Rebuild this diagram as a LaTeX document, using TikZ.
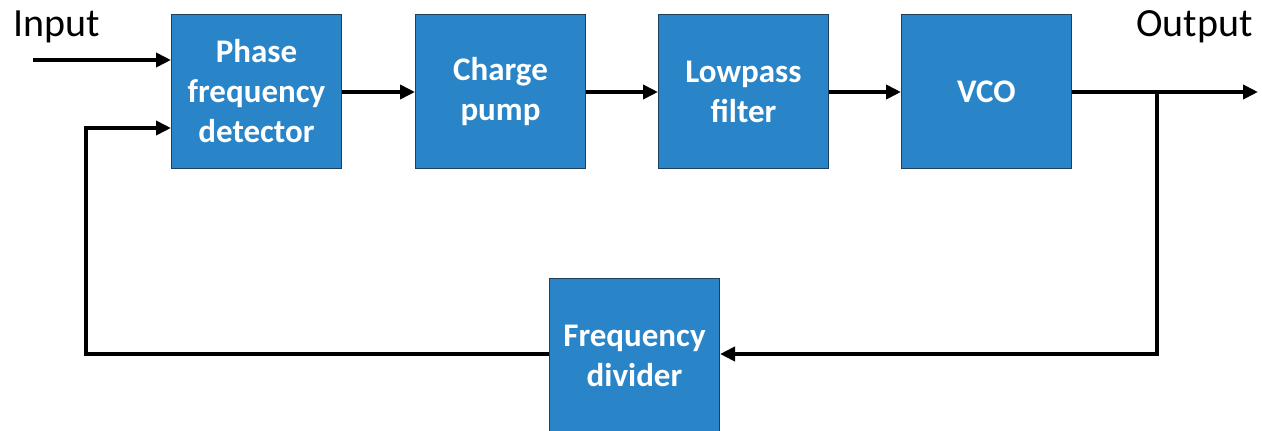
\documentclass[tikz,border=0pt]{standalone}
\usepackage{fontspec}
\setmainfont{Carlito}
\usetikzlibrary{arrows.meta}
\definecolor{boxblue}{HTML}{2A85C8}
\definecolor{boxedge}{HTML}{1F3F5F}
\begin{document}
\begin{tikzpicture}[x=1pt,y=-1pt,
  blk/.style={draw=boxedge,line width=1pt,fill=boxblue,minimum width=170pt,minimum height=154pt,
    inner sep=0pt,text=white,font=\fontsize{33}{40}\selectfont\bfseries,align=center,anchor=north west},
  wire/.style={line width=4.5pt,-{Triangle[length=15pt,width=14pt]}},
  lbl/.style={font=\fontsize{40}{44}\selectfont,inner sep=0pt}]
\useasboundingbox (0,0) rectangle (1262,431);
\node[blk] (pfd) at (171,14) {Phase\\frequency\\detector};
\node[blk] (cp) at (415,14) {Charge\\pump};
\node[blk] (lpf) at (658,14) {Lowpass\\filter};
\node[blk] (vco) at (901,14) {VCO};
\node[blk] (fd) at (549,278) {Frequency\\divider};
\node[lbl,anchor=base west] (inlbl) at (13,36) {Input};
\node[lbl,anchor=base east] (outlbl) at (1253,36) {Output};
\coordinate (inS) at (33,60);
\coordinate (fbA) at (86,354);
\coordinate (fbB) at (86,128);
\coordinate (tap) at (1157,92);
\coordinate (tapB) at (1157,354);
\coordinate (outE) at (1258,92);
\draw[wire] (inS) -- (inS -| pfd.west);
\draw[wire] (pfd.east |- 0,92) -- (cp.west |- 0,92);
\draw[wire] (cp.east |- 0,92) -- (lpf.west |- 0,92);
\draw[wire] (lpf.east |- 0,92) -- (vco.west |- 0,92);
\draw[wire] (vco.east |- 0,92) -- (outE);
\draw[wire,line join=miter] (tap) -- (tapB) -- (tapB -| fd.east);
\draw[wire,line join=miter] (fd.west |- fbA) -- (fbA) -- (fbB) -- (fbB -| pfd.west);
\end{tikzpicture}
\end{document}
